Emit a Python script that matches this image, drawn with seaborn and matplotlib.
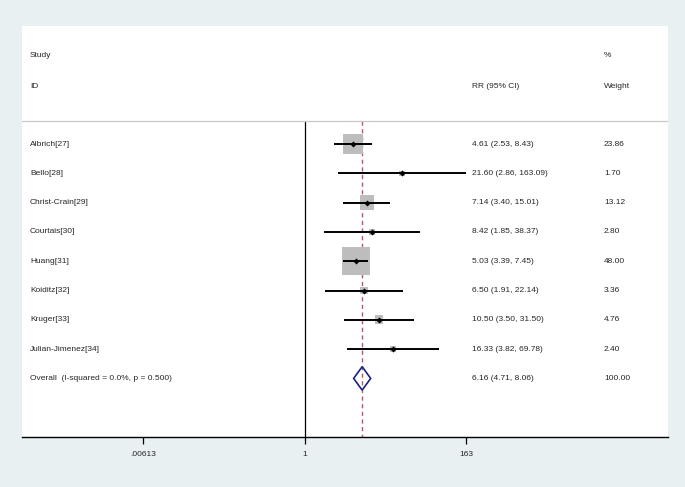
import numpy as np
import pandas as pd
import matplotlib
matplotlib.use("Agg")
import matplotlib.pyplot as plt
from matplotlib.patches import Polygon
import seaborn as sns

# Study-level data
studies = ["Albrich[27]", "Bello[28]", "Christ-Crain[29]", "Courtais[30]",
           "Huang[31]", "Koiditz[32]", "Kruger[33]", "Julian-Jimenez[34]"]
rr = [4.61, 21.60, 7.14, 8.42, 5.03, 6.50, 10.50, 16.33]
lower = [2.53, 2.86, 3.40, 1.85, 3.39, 1.91, 3.50, 3.82]
upper = [8.43, 163.09, 15.01, 38.37, 7.45, 22.14, 31.50, 69.78]
weight = [23.86, 1.70, 13.12, 2.80, 48.00, 3.36, 4.76, 2.40]

overall_label = "Overall  (I-squared = 0.0%, p = 0.500)"
overall_rr, overall_lo, overall_hi = 6.16, 4.71, 8.06

tick_values = [0.00613, 1, 163]
tick_labels = [".00613", "1", "163"]

df = pd.DataFrame({"study": studies, "rr": rr, "lo": lower, "hi": upper, "w": weight})
df["row"] = np.arange(len(df))

sns.set_style("white")
plt.rcParams["font.family"] = ["Liberation Sans", "DejaVu Sans"]

fig = plt.figure(figsize=(6.85, 4.87), dpi=100)
fig.patch.set_facecolor("#e8f0f2")
ax = fig.add_axes([22 / 685, 50 / 487, 646 / 685, 411 / 487])
ax.set_facecolor("white")

ax.set_xscale("log")
ax.set_xlim(10 ** -3.871, 10 ** 4.98)
ax.set_ylim(10.0, -4.03)

# reference lines
ax.plot([1, 1], [-0.78, 10.0], color="black", lw=0.9, zorder=1)
ax.plot([overall_rr, overall_rr], [-0.78, 10.0], color="#b35a62", lw=1.0,
        ls=(0, (3, 2.5)), zorder=1)
ax.axhline(-0.785, color="#c8c8c8", lw=0.9, zorder=1)

# weight boxes, area proportional to weight
sns.scatterplot(data=df, x="rr", y="row", size="w", sizes=(8.3 * min(weight), 8.3 * max(weight)),
                size_norm=(min(weight), max(weight)), marker="s", color="#bdbdbd",
                edgecolor="none", legend=False, ax=ax, zorder=2)

# confidence intervals
ax.hlines(df["row"], df["lo"], df["hi"], color="black", lw=1.4, zorder=3)
sns.scatterplot(data=df, x="rr", y="row", marker="D", s=8, color="black",
                edgecolor="black", legend=False, ax=ax, zorder=4)

# overall diamond
yo = len(df)
diamond = Polygon([[overall_lo, yo], [overall_rr, yo - 0.4], [overall_hi, yo], [overall_rr, yo + 0.4]],
                  closed=True, fill=False, edgecolor="#1c2280", lw=1.2, zorder=4)
ax.add_patch(diamond)

# text columns
fs = 6
tr = ax.get_yaxis_transform()
x_study, x_rr, x_w = (30 - 22) / 646, (472 - 22) / 646, (604 - 22) / 646
ax.text(x_study, -3.04, "Study", transform=tr, fontsize=fs, va="center")
ax.text(x_study, -1.98, "ID", transform=tr, fontsize=fs, va="center")
ax.text(x_rr, -1.98, "RR (95% CI)", transform=tr, fontsize=fs, va="center")
ax.text(x_w, -3.04, "%", transform=tr, fontsize=fs, va="center")
ax.text(x_w, -1.98, "Weight", transform=tr, fontsize=fs, va="center")
for i, r in df.iterrows():
    ax.text(x_study, r["row"], r["study"], transform=tr, fontsize=fs, va="center")
    ax.text(x_rr, r["row"], f"{r['rr']:.2f} ({r['lo']:.2f}, {r['hi']:.2f})",
            transform=tr, fontsize=fs, va="center")
    ax.text(x_w, r["row"], f"{r['w']:.2f}", transform=tr, fontsize=fs, va="center")
ax.text(x_study, yo, overall_label, transform=tr, fontsize=fs, va="center")
ax.text(x_rr, yo, f"{overall_rr:.2f} ({overall_lo:.2f}, {overall_hi:.2f})",
        transform=tr, fontsize=fs, va="center")
ax.text(x_w, yo, "100.00", transform=tr, fontsize=fs, va="center")

# axis styling
for side in ["top", "left", "right"]:
    ax.spines[side].set_visible(False)
ax.spines["bottom"].set_color("black")
ax.spines["bottom"].set_linewidth(1.0)
ax.set_yticks([])
ax.set_xticks(tick_values)
ax.set_xticklabels(tick_labels)
ax.xaxis.set_minor_locator(matplotlib.ticker.NullLocator())
ax.tick_params(axis="x", direction="out", length=5, width=0.9, color="black",
               labelsize=fs, pad=5, bottom=True)
ax.set_xlabel("")
ax.set_ylabel("")

fig.savefig("out.png", dpi=100, facecolor=fig.get_facecolor())
